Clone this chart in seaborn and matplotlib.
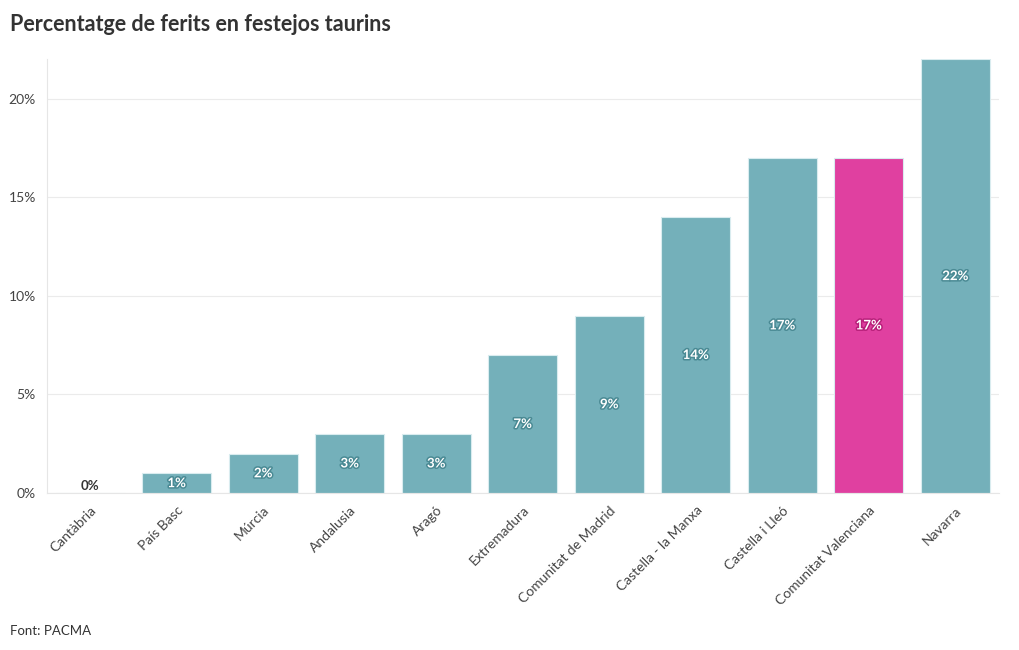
import matplotlib
matplotlib.use("Agg")
import matplotlib.pyplot as plt
import matplotlib.patheffects as pe
from matplotlib.ticker import FuncFormatter
import seaborn as sns
import pandas as pd

regions = ["Cantàbria", "País Basc", "Múrcia", "Andalusia", "Aragó", "Extremadura",
           "Comunitat de Madrid", "Castella - la Manxa", "Castella i Lleó",
           "Comunitat Valenciana", "Navarra"]
values = [0, 1, 2, 3, 3, 7, 9, 14, 17, 17, 22]
highlight = "Comunitat Valenciana"

title = "Percentatge de ferits en festejos taurins"
source = "Font: PACMA"

TEAL = "#74b0ba"
PINK = "#e040a0"

sns.set_theme(style="white")
plt.rcParams["font.family"] = ["Lato", "DejaVu Sans"]

df = pd.DataFrame({"region": regions, "value": values})
palette = {r: (PINK if r == highlight else TEAL) for r in regions}

fig = plt.figure(figsize=(10.2, 6.5), dpi=100)
ax = fig.add_axes([0.046, 0.2415, 0.933, 0.6675])

sns.barplot(data=df, x="region", y="value", hue="region", palette=palette,
            width=0.8, saturation=1, legend=False, ax=ax,
            edgecolor="#d9ecef", linewidth=0.8)

ax.set_ylim(0, 22)
ax.set_xlim(-0.5, len(regions) - 0.5)
ax.set_yticks([0, 5, 10, 15, 20])
ax.yaxis.set_major_formatter(FuncFormatter(lambda v, p: f"{int(v)}%"))
ax.grid(axis="y", color="#ebebeb", linewidth=0.8)
ax.set_axisbelow(True)
for s in ["top", "right"]:
    ax.spines[s].set_visible(False)
for s in ["left", "bottom"]:
    ax.spines[s].set_color("#e6e6e6")
    ax.spines[s].set_linewidth(0.8)
ax.set_xlabel("")
ax.set_ylabel("")
ax.tick_params(axis="y", labelsize=10, colors="#444444", length=0, pad=8)
ax.tick_params(axis="x", labelsize=10, colors="#444444", length=3, color="#dddddd", pad=5)
plt.setp(ax.get_xticklabels(), rotation=45, ha="right", rotation_mode="anchor")

for i, (r, v) in enumerate(zip(regions, values)):
    if v == 0:
        ax.text(i, 0.35, f"{v}%", ha="center", va="center", fontsize=9.5,
                fontweight="bold", color="#333333")
    else:
        shadow = "#b8207a" if r == highlight else "#4a8a94"
        ax.text(i, v / 2, f"{v}%", ha="center", va="center", fontsize=9.5,
                fontweight="bold", color="white",
                path_effects=[pe.withStroke(linewidth=2.2, foreground=shadow)])

fig.text(0.0098, 0.963, title, fontsize=15.5, fontweight="bold", color="#333333",
         ha="left", va="center")
fig.text(0.0098, 0.029, source, fontsize=9.5, color="#333333", ha="left", va="center")

fig.savefig("out.png", dpi=100)
